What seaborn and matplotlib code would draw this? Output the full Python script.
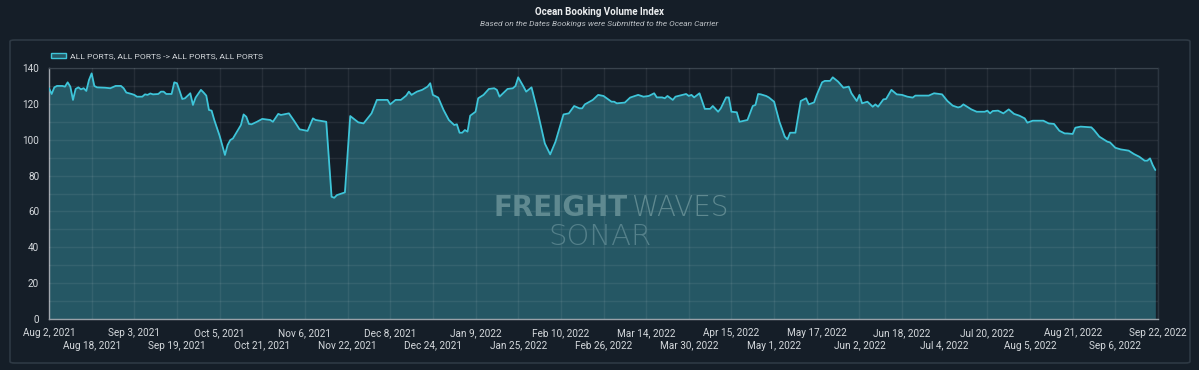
import matplotlib
matplotlib.use("Agg")
import matplotlib.pyplot as plt
import seaborn as sns
import numpy as np
import pandas as pd
from matplotlib.patches import FancyBboxPatch, Patch
from matplotlib.ticker import MultipleLocator

# ---------------- data ----------------
start_date = "2021-08-02"
day_offsets = [
    0, 1, 2, 3, 5, 6, 7, 8, 9, 10, 11, 12, 13, 14, 15, 16, 17, 18, 21, 23,
    25, 27, 28, 29, 31, 32, 33, 35, 36, 37, 38, 39, 41, 42, 43, 44, 46, 47, 48, 49,
    50, 51, 53, 54, 55, 57, 58, 59, 60, 61, 62, 64, 66, 67, 68, 69, 72, 73, 74, 75,
    76, 78, 80, 83, 84, 86, 87, 90, 92, 94, 97, 99, 100, 104, 106, 107, 108, 111, 113, 116,
    118, 121, 123, 127, 128, 130, 132, 134, 135, 136, 138, 140, 142, 143, 144, 146, 148, 150, 152, 153,
    154, 155, 156, 157, 158, 160, 161, 163, 165, 167, 168, 169, 172, 174, 175, 176, 178, 179, 181, 183,
    186, 188, 190, 193, 195, 197, 199, 200, 201, 204, 206, 208, 211, 212, 213, 216, 218, 221, 223, 225,
    227, 228, 230, 231, 232, 234, 235, 239, 240, 241, 242, 244, 246, 248, 249, 251, 252, 254, 255, 256,
    258, 259, 262, 264, 265, 266, 267, 269, 270, 272, 274, 276, 277, 278, 280, 282, 284, 285, 287, 288,
    290, 291, 293, 294, 296, 298, 300, 301, 303, 304, 305, 307, 309, 310, 311, 313, 314, 316, 318, 320,
    322, 324, 325, 330, 332, 335, 337, 339, 341, 342, 343, 346, 348, 351, 352, 353, 354, 356, 358, 360,
    362, 364, 366, 367, 369, 373, 375, 377, 379, 381, 382, 384, 385, 387, 391, 392, 394, 397, 398, 400,
    402, 405, 407, 409, 411, 412, 413, 414, 415,
]
index_values = [
    128.7, 125.5, 129.2, 130.0, 130.0, 129.6, 132.0, 129.6, 122.2, 128.3, 129.2, 128.1, 128.7, 127.2, 133.3, 137.0, 130.0, 129.2, 129.0, 128.7,
    130.0, 130.0, 128.7, 126.3, 125.5, 125.0, 124.0, 124.0, 125.3, 125.0, 125.8, 125.3, 125.5, 126.8, 126.8, 125.5, 125.5, 132.0, 131.5, 127.2,
    122.7, 123.1, 125.9, 119.4, 123.5, 127.8, 126.3, 124.6, 116.6, 116.2, 111.0, 102.2, 91.5, 97.0, 99.8, 100.7, 108.2, 114.1, 112.8, 108.8,
    108.6, 110.0, 111.6, 111.0, 110.0, 114.4, 113.8, 114.7, 110.4, 105.8, 104.9, 111.9, 111.0, 110.0, 68.2, 67.6, 69.1, 70.6, 113.2, 109.7,
    109.1, 114.7, 122.2, 122.2, 119.7, 122.2, 122.2, 124.6, 126.8, 125.0, 126.8, 127.8, 129.6, 131.5, 125.0, 123.5, 116.6, 111.0, 108.2, 108.6,
    103.9, 103.9, 105.4, 104.5, 113.4, 115.6, 123.1, 125.0, 128.3, 128.7, 127.8, 124.0, 128.3, 128.7, 130.0, 134.8, 129.6, 126.8, 129.2, 117.5,
    97.9, 91.8, 98.9, 114.1, 114.7, 118.8, 117.5, 117.5, 119.7, 122.2, 125.0, 124.4, 121.2, 121.2, 120.3, 120.7, 123.5, 125.0, 124.0, 124.4,
    125.9, 123.6, 123.6, 123.1, 124.4, 122.2, 124.0, 125.5, 124.4, 125.0, 123.6, 125.9, 117.2, 117.2, 118.8, 115.6, 117.5, 123.6, 123.6, 115.6,
    115.3, 110.0, 111.0, 118.8, 119.4, 125.5, 125.3, 124.4, 123.6, 121.2, 110.0, 101.7, 100.2, 103.9, 103.9, 121.6, 123.1, 119.7, 120.8, 125.0,
    132.0, 132.8, 132.8, 134.8, 132.4, 129.0, 129.6, 125.9, 121.6, 125.0, 120.3, 121.2, 118.4, 119.7, 118.4, 122.5, 122.7, 127.8, 125.3, 125.0,
    124.0, 123.5, 124.6, 124.6, 125.9, 125.3, 121.6, 119.0, 118.0, 118.4, 119.7, 116.9, 115.6, 115.6, 116.2, 114.7, 116.0, 116.2, 114.7, 116.9,
    114.4, 113.4, 111.9, 109.5, 110.6, 110.6, 109.1, 108.8, 105.0, 103.5, 103.5, 103.2, 106.7, 107.3, 106.9, 105.4, 101.7, 98.9, 98.5, 95.5,
    94.6, 93.9, 92.0, 90.5, 88.3, 88.3, 89.6, 85.9, 83.1,
]
tick_labels = [
    "Aug 2, 2021", "Aug 18, 2021", "Sep 3, 2021", "Sep 19, 2021", "Oct 5, 2021",
    "Oct 21, 2021", "Nov 6, 2021", "Nov 22, 2021", "Dec 8, 2021", "Dec 24, 2021",
    "Jan 9, 2022", "Jan 25, 2022", "Feb 10, 2022", "Feb 26, 2022", "Mar 14, 2022",
    "Mar 30, 2022", "Apr 15, 2022", "May 1, 2022", "May 17, 2022", "Jun 2, 2022",
    "Jun 18, 2022", "Jul 4, 2022", "Jul 20, 2022", "Aug 5, 2022", "Aug 21, 2022",
    "Sep 6, 2022", "Sep 22, 2022",
]
y_ticks = [0, 20, 40, 60, 80, 100, 120, 140]
series_name = "ALL PORTS, ALL PORTS -> ALL PORTS, ALL PORTS"
title = "Ocean Booking Volume Index"
subtitle = "Based on the Dates Bookings were Submitted to the Ocean Carrier"

# ---------------- style ----------------
BG = "#151e28"
FILL = "#255764"
LINE = "#3ec5d9"
TXT = "#d4d8dc"

sns.set_theme(style="dark")
plt.rcParams["font.family"] = ["Roboto", "DejaVu Sans"]

df = pd.DataFrame({
    "date": pd.Timestamp(start_date) + pd.to_timedelta(day_offsets, unit="D"),
    "value": index_values,
})
tick_dates = pd.to_datetime(tick_labels, format="%b %d, %Y")

fig = plt.figure(figsize=(11.99, 3.70), dpi=100, facecolor=BG)
ax = fig.add_axes([49 / 1199, 1 - 319 / 370, (1158 - 49) / 1199, (319 - 68) / 370])
ax.set_facecolor(BG)

ax.fill_between(df["date"], 0, df["value"], color=FILL, lw=0, zorder=1)
sns.lineplot(data=df, x="date", y="value", ax=ax, color=LINE, lw=1.3, zorder=3)

ax.set_xlim(tick_dates[0], tick_dates[-1])
ax.set_ylim(0, 140)
ax.set_xlabel("")
ax.set_ylabel("")

ax.set_xticks(tick_dates[::2])
ax.set_xticklabels(tick_labels[::2])
ax.set_xticks(tick_dates[1::2], minor=True)
ax.set_xticklabels(tick_labels[1::2], minor=True)
ax.set_yticks(y_ticks)
ax.yaxis.set_minor_locator(MultipleLocator(10))

ax.tick_params(axis="x", which="major", length=0, pad=6.5, labelsize=7.2, colors=TXT)
ax.tick_params(axis="x", which="minor", length=0, pad=15.5, labelsize=7.2, colors=TXT)
ax.tick_params(axis="y", which="both", length=0, pad=7, labelsize=7.2, colors=TXT)

ax.set_axisbelow(False)
ax.grid(which="both", axis="both", color="white", alpha=0.07, lw=1)

for side in ["left", "bottom"]:
    ax.spines[side].set_color("#9aa1a8")
    ax.spines[side].set_linewidth(1)
for side in ["top", "right"]:
    ax.spines[side].set_color("#2b3540")
    ax.spines[side].set_linewidth(1)

# panel border
fig.patches.append(FancyBboxPatch(
    (10 / 1199, 1 - 363 / 370), 1180 / 1199, 323 / 370,
    boxstyle="round,pad=0,rounding_size=0.004", transform=fig.transFigure,
    facecolor="none", edgecolor="#2e3944", lw=1.2, zorder=0))

# titles
fig.text(0.5, 1 - 12 / 370, title, ha="center", va="center", fontsize=7,
         fontweight="bold", color="#eceef0")
fig.text(0.5, 1 - 24 / 370, subtitle, ha="center", va="center", fontsize=6,
         fontstyle="italic", color="#b9bec3")

# legend
ax.legend(handles=[Patch(facecolor=FILL, edgecolor=LINE, lw=1, label=series_name)],
          loc="center left", bbox_to_anchor=(43 / 1199, 1 - 56 / 370),
          bbox_transform=fig.transFigure, frameon=False, fontsize=6.1,
          handlelength=1.8, handleheight=0.6, handletextpad=0.5, labelcolor=TXT)

# watermark
fig.text(628 / 1199, 1 - 208 / 370, "FREIGHT", ha="right", va="center",
         fontsize=20, fontweight="bold", family=["DejaVu Sans"], color="#5f8990", zorder=5)
fig.text(631 / 1199, 1 - 208 / 370, "WAVES", ha="left", va="center",
         fontsize=20, fontweight="light", family=["DejaVu Sans"], color="#5f8990", zorder=5)
fig.text(600 / 1199, 1 - 237 / 370, "SONAR", ha="center", va="center",
         fontsize=21, fontweight="light", family=["DejaVu Sans"], color="#54808a", zorder=5)

fig.savefig("out.png", dpi=100, facecolor=BG)
